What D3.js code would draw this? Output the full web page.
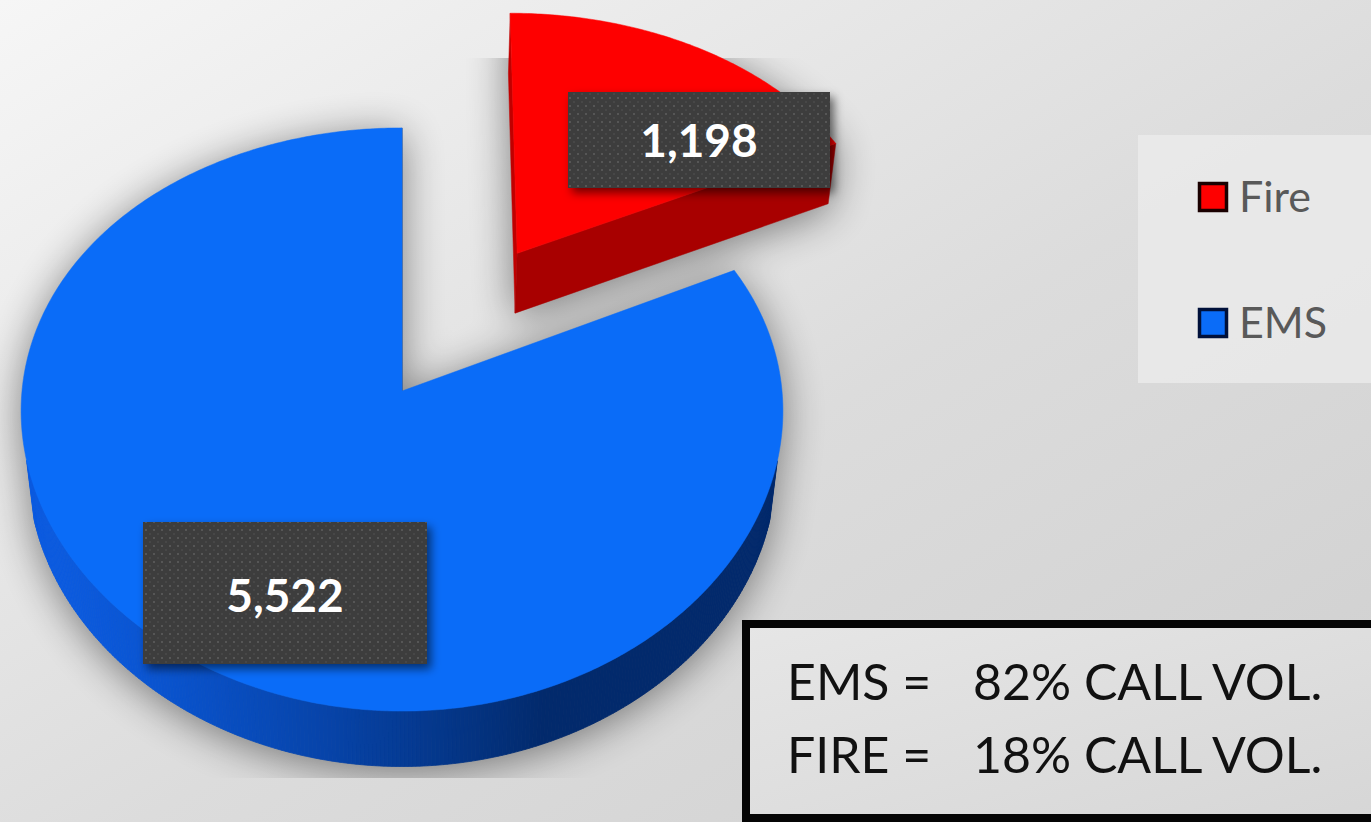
<!DOCTYPE html>
<html>
<head>
<meta charset="utf-8">
<script src="https://cdn.jsdelivr.net/npm/d3@7"></script>
<style>
  html, body { margin: 0; padding: 0; overflow: hidden; background: #e2e2e2; }
  svg { display: block; }
</style>
</head>
<body>
<svg id="chart" width="1371" height="822"></svg>
<script>
// ---- data ----
const categories = ["Fire", "EMS"];
const callCounts = [1198, 5522];
const topColors = ["#fe0000", "#0a6cf8"];
const wallLight = ["#d20000", "#0b5be0"];
const wallDark = ["#a80000", "#022a6c"];
const explodeAmount = [0.59, 0];

// ---- layout ----
const W = 1371, H = 822;
// camera: px softens horizontal convergence relative to vertical
const cam = { cx: 402, cy: 391, f: 2527, D: 6.65, s: 0.76, c: 0.65, px: 0.7 };
const radius = 1, thickness = 0.245;
const camPos = [0, cam.D * cam.s, cam.D * cam.c];   // world position of the eye
const lightDir = [-0.937, 0.351];                    // (x, z) light from the left-front

const labelBoxes = [
  { x: 568, y: 92, w: 262, h: 96, base: 157 },
  { x: 143, y: 522, w: 284, h: 142, base: 612 }
];

const svg = d3.select("#chart");
const defs = svg.append("defs");

// background
const bg = defs.append("linearGradient").attr("id", "bg")
  .attr("x1", 0).attr("y1", 0).attr("x2", 1).attr("y2", 1);
bg.append("stop").attr("offset", 0).attr("stop-color", "#f6f6f6");
bg.append("stop").attr("offset", 0.55).attr("stop-color", "#dcdcdc");
bg.append("stop").attr("offset", 1).attr("stop-color", "#cfcfcf");
svg.append("rect").attr("width", W).attr("height", H).attr("fill", "url(#bg)");

// filters
defs.append("filter").attr("id", "pieShadow")
  .attr("x", -0.3).attr("y", -0.3).attr("width", 1.6).attr("height", 1.6)
  .append("feGaussianBlur").attr("stdDeviation", 20);
defs.append("filter").attr("id", "boxShadow")
  .attr("x", -0.2).attr("y", -0.2).attr("width", 1.5).attr("height", 1.6)
  .append("feDropShadow").attr("dx", 4).attr("dy", 5).attr("stdDeviation", 5)
  .attr("flood-color", "#000").attr("flood-opacity", 0.55);
defs.append("clipPath").attr("id", "plotClip")
  .append("rect").attr("x", 0).attr("y", 58).attr("width", 900).attr("height", 720);

// dotted fill for the data labels
const pat = defs.append("pattern").attr("id", "dots")
  .attr("width", 8).attr("height", 8).attr("patternUnits", "userSpaceOnUse");
pat.append("rect").attr("width", 8).attr("height", 8).attr("fill", "#3d3d3d");
pat.append("circle").attr("cx", 2).attr("cy", 2).attr("r", 1).attr("fill", "#5e5e5e");
pat.append("circle").attr("cx", 6).attr("cy", 6).attr("r", 0.8).attr("fill", "#535353");

// ---- 3D projection ----
function project(X, Y, Z) {
  const yc = Y * cam.c - Z * cam.s;
  const depth = cam.D - Z * cam.c - Y * cam.s;
  return [cam.cx + (cam.f / cam.D) * X * Math.pow(cam.D / depth, cam.px),
          cam.cy - cam.f * yc / depth];
}
function rimPoint(theta, y, off) {
  return project(off[0] + radius * Math.sin(theta), y, off[1] - radius * Math.cos(theta));
}
function dir(theta) { return [Math.sin(theta), -Math.cos(theta)]; }
function facesEye(n, p) {
  return n[0] * (camPos[0] - p[0]) + n[1] * (camPos[2] - p[1]) > 0;
}
function brightness(n) { return Math.max(0, n[0] * lightDir[0] + n[1] * lightDir[1]); }

const pie = d3.pie().sort(null).startAngle(0).endAngle(2 * Math.PI);
const arcs = pie(callCounts);
const line = d3.line();

// build faces for every slice
const slices = arcs.map((a, i) => {
  const mid = (a.startAngle + a.endAngle) / 2;
  const off = [explodeAmount[i] * Math.sin(mid), -explodeAmount[i] * Math.cos(mid)];
  const faces = [];
  const n = Math.max(2, Math.ceil((a.endAngle - a.startAngle) / 0.01));
  const thetas = d3.range(n + 1).map(k => a.startAngle + (a.endAngle - a.startAngle) * k / n);
  const ctrTop = project(off[0], 0, off[1]);
  const ctrBot = project(off[0], -thickness, off[1]);
  const shade = d3.interpolateRgb(wallDark[i], wallLight[i]);

  // radial cut faces
  [[a.startAngle, a.startAngle - Math.PI / 2], [a.endAngle, a.endAngle + Math.PI / 2]].forEach(([t, nd]) => {
    const nrm = dir(nd);
    if (facesEye(nrm, off)) {
      faces.push({ pts: [ctrTop, rimPoint(t, 0, off), rimPoint(t, -thickness, off), ctrBot],
                   fill: shade(brightness(nrm) * 0.6) });
    }
  });
  // outer wall, split into thin strips
  for (let k = 0; k < n; k++) {
    const t0 = thetas[k], t1 = thetas[k + 1], tm = (t0 + t1) / 2;
    const nrm = dir(tm);
    const p = [off[0] + radius * nrm[0], off[1] + radius * nrm[1]];
    if (!facesEye(nrm, p)) continue;
    faces.push({ pts: [rimPoint(t0, 0, off), rimPoint(t1, 0, off),
                       rimPoint(t1, -thickness, off), rimPoint(t0, -thickness, off)],
                 fill: shade(brightness(nrm)), strip: true });
  }
  // top face
  faces.push({ pts: [ctrTop].concat(thetas.map(t => rimPoint(t, 0, off))), fill: topColors[i] });
  return { i, faces, depth: Math.hypot(off[0], off[1]) };
});

// farther (exploded) slices are painted first
slices.sort((p, q) => q.depth - p.depth);

// soft shadow cast by the pie
const shadow = svg.append("g").attr("clip-path", "url(#plotClip)")
  .append("g").attr("filter", "url(#pieShadow)").attr("opacity", 0.45)
  .attr("transform", "translate(0,6)");
slices.forEach(s => s.faces.forEach(f => {
  shadow.append("path").attr("d", line(f.pts) + "Z").attr("fill", "#000")
    .attr("stroke", "#000").attr("stroke-width", 1);
}));

// pie solids
const pieG = svg.append("g");
slices.forEach(s => {
  const g = pieG.append("g").attr("class", "slice-" + categories[s.i]);
  s.faces.forEach(f => {
    g.append("path").attr("d", line(f.pts) + "Z")
      .attr("fill", f.fill)
      .attr("stroke", f.fill).attr("stroke-width", f.strip ? 0.8 : 0.5)
      .attr("stroke-linejoin", "round");
  });
});

// data labels
const labels = svg.append("g");
arcs.forEach((a, i) => {
  const b = labelBoxes[i];
  labels.append("rect").attr("x", b.x).attr("y", b.y).attr("width", b.w).attr("height", b.h)
    .attr("fill", "url(#dots)").attr("filter", "url(#boxShadow)");
  labels.append("text").attr("x", b.x + b.w / 2).attr("y", b.base)
    .attr("text-anchor", "middle")
    .attr("font-family", "Lato, 'Open Sans', sans-serif").attr("font-weight", 700)
    .attr("font-size", 46).attr("fill", "#ffffff")
    .text(d3.format(",")(a.data));
});

// legend
const legend = svg.append("g");
legend.append("rect").attr("x", 1138).attr("y", 135).attr("width", 245).attr("height", 248)
  .attr("fill", "#ececec").attr("opacity", 0.75);
categories.forEach((name, i) => {
  const y = 182 + i * 126;
  legend.append("rect").attr("x", 1199.5).attr("y", y + 1.5).attr("width", 27).attr("height", 27)
    .attr("fill", topColors[i]).attr("stroke", i === 0 ? "#1a0000" : "#00103a").attr("stroke-width", 3.5);
  legend.append("text").attr("x", 1239).attr("y", y + 30)
    .attr("font-family", "Lato, 'Open Sans', sans-serif").attr("font-size", 43)
    .attr("fill", "#595959").text(name);
});

// share summary box
const total = d3.sum(callCounts);
const pct = d3.format(".0%");
const summaryOrder = [1, 0];
const note = svg.append("g");
const ng = defs.append("linearGradient").attr("id", "noteFill")
  .attr("x1", 0).attr("y1", 0).attr("x2", 1).attr("y2", 1);
ng.append("stop").attr("offset", 0).attr("stop-color", "#e6e6e6");
ng.append("stop").attr("offset", 1).attr("stop-color", "#d6d6d6");
note.append("rect").attr("x", 746).attr("y", 624).attr("width", 650).attr("height", 194)
  .attr("fill", "url(#noteFill)").attr("stroke", "#050505").attr("stroke-width", 8);
summaryOrder.forEach((idx, r) => {
  const t = note.append("text").attr("y", 700 + r * 73)
    .attr("font-family", "Lato, 'Open Sans', sans-serif").attr("font-size", 50).attr("fill", "#111");
  t.append("tspan").attr("x", 787).text(categories[idx].toUpperCase() + " =");
  t.append("tspan").attr("x", 973).text(pct(callCounts[idx] / total) + " CALL VOL.");
});
</script>
</body>
</html>
